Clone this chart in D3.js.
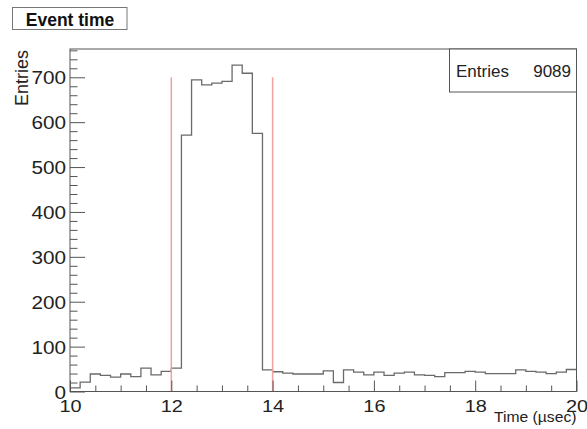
<!DOCTYPE html>
<html>
<head>
<meta charset="utf-8">
<script src="https://cdn.jsdelivr.net/npm/d3@7"></script>
<style>
  html, body { margin: 0; padding: 0; background: #fff; }
  svg { display: block; font-family: "Liberation Sans", Arial, Helvetica, sans-serif; }
</style>
</head>
<body>
<svg id="chart" width="587" height="429"></svg>
<script>
// ---- data ----
const title = "Event time";
const xTitle = "Time (\u00b5sec)";
const yTitle = "Entries";
const statsLabel = "Entries";
const statsValue = "9089";
const xMin = 10, xMax = 20, binWidth = 0.2;
const counts = [
  8, 21, 39, 36, 32, 39, 33, 52, 37, 45,
  52, 571, 694, 683, 687, 691, 727, 709, 575, 48,
  44, 41, 39, 39, 39, 46, 20, 48, 43, 37,
  43, 36, 41, 43, 37, 36, 33, 42, 42, 45,
  43, 40, 40, 40, 48, 45, 43, 40, 43, 49
];
const cutLines = [12, 14];
const cutHeight = 700;
const xMajorTicks = [10, 12, 14, 16, 18, 20];
const xMinorTicks = [10.5, 11, 11.5, 12.5, 13, 13.5, 14.5, 15, 15.5, 16.5, 17, 17.5, 18.5, 19, 19.5];
const yMajorTicks = [0, 100, 200, 300, 400, 500, 600, 700];
const yMinorTicks = [20, 40, 60, 80, 120, 140, 160, 180, 220, 240, 260, 280, 320, 340, 360, 380,
                     420, 440, 460, 480, 520, 540, 560, 580, 620, 640, 660, 680, 720, 740, 760];
const yMax = 763;

// ---- layout ----
const L = 70, R = 576.5, T = 49, B = 391.5;
const svg = d3.select("#chart");
const x = d3.scaleLinear().domain([xMin, xMax]).range([L, R]);
const y = d3.scaleLinear().domain([0, yMax]).range([B, T]);
const axisColor = "#555";

// histogram step line
const pts = counts.map((c, i) => [xMin + i * binWidth, c]);
pts.push([xMax, counts[counts.length - 1]]);
const line = d3.line().x(d => x(d[0])).y(d => y(d[1])).curve(d3.curveStepAfter);
svg.append("path").attr("d", line(pts))
  .attr("fill", "none").attr("stroke", "#6a6a6a").attr("stroke-width", 1.3);

// cut lines
svg.selectAll("line.cut").data(cutLines).enter().append("line")
  .attr("class", "cut")
  .attr("x1", d => x(d)).attr("x2", d => x(d))
  .attr("y1", y(0)).attr("y2", y(cutHeight))
  .attr("stroke", "#f5a0a0").attr("stroke-width", 1.5);

// frame
svg.append("rect").attr("x", L).attr("y", T).attr("width", R - L).attr("height", B - T)
  .attr("fill", "none").attr("stroke", axisColor).attr("stroke-width", 1);

// x axis
const gxMinor = svg.append("g").attr("transform", `translate(0,${B})`)
  .call(d3.axisBottom(x).tickValues(xMinorTicks).tickSize(-6).tickFormat(""));
const gx = svg.append("g").attr("transform", `translate(0,${B})`)
  .call(d3.axisBottom(x).tickValues(xMajorTicks).tickSize(-11).tickFormat(d3.format("d")));
[gxMinor, gx].forEach(g => {
  g.select(".domain").remove();
  g.selectAll("line").attr("stroke", axisColor);
});
gx.selectAll("text")
  .attr("y", 20.5).attr("dy", 0)
  .attr("font-size", 17).attr("fill", "#222")
  .attr("font-family", "Liberation Sans, Arial, sans-serif")
  .attr("transform", "scale(1.17,1)");

// y axis
const gyMinor = svg.append("g").attr("transform", `translate(${L},0)`)
  .call(d3.axisLeft(y).tickValues(yMinorTicks).tickSize(-7.5).tickFormat(""));
const gy = svg.append("g").attr("transform", `translate(${L},0)`)
  .call(d3.axisLeft(y).tickValues(yMajorTicks).tickSize(-15).tickFormat(d3.format("d")));
[gyMinor, gy].forEach(g => {
  g.select(".domain").remove();
  g.selectAll("line").attr("stroke", axisColor);
});
gy.selectAll("text")
  .attr("x", -3.5).attr("dy", "0.36em")
  .attr("font-size", 18.5).attr("fill", "#222")
  .attr("font-family", "Liberation Sans, Arial, sans-serif")
  .attr("transform", "scale(1.12,1)");

// axis titles
svg.append("text").attr("x", R).attr("y", 422)
  .attr("text-anchor", "end").attr("font-size", 14).attr("fill", "#222")
  .attr("transform", `translate(${R},0) scale(1.12,1) translate(${-R},0)`)
  .text(xTitle);
svg.append("text")
  .attr("transform", `translate(28,${T + 1}) rotate(-90)`)
  .attr("text-anchor", "end").attr("font-size", 18).attr("fill", "#222")
  .text(yTitle);

// title box
svg.append("rect").attr("x", 12.5).attr("y", 7.5).attr("width", 114.5).attr("height", 22)
  .attr("fill", "#fff").attr("stroke", "#777").attr("stroke-width", 1);
svg.append("text").attr("x", 70).attr("y", 26)
  .attr("text-anchor", "middle").attr("font-size", 17.5).attr("font-weight", "bold").attr("fill", "#111")
  .text(title);

// stats box
svg.append("rect").attr("x", 449.5).attr("y", T).attr("width", R - 449.5).attr("height", 43)
  .attr("fill", "#fff").attr("stroke", axisColor).attr("stroke-width", 1);
svg.append("text").attr("x", 456).attr("y", 77)
  .attr("font-size", 17).attr("fill", "#222").text(statsLabel);
svg.append("text").attr("x", 571).attr("y", 77).attr("text-anchor", "end")
  .attr("font-size", 17).attr("fill", "#222").text(statsValue);
</script>
</body>
</html>
